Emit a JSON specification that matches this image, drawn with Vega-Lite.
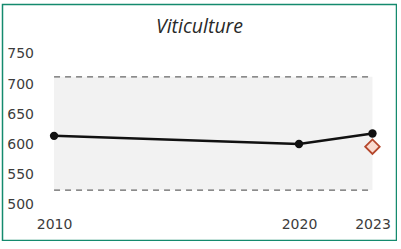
{
  "$schema": "https://vega.github.io/schema/vega-lite/v6.json",
  "autosize": "none",
  "padding": {"left": 2.5, "top": 4.5, "right": 0, "bottom": 0},
  "width": 394,
  "height": 236,
  "background": "white",
  "config": {
    "view": {"stroke": "#148a6e", "strokeWidth": 1.5},
    "font": "DejaVu Sans"
  },
  "title": {
    "text": "Viticulture",
    "font": "Open Sans",
    "fontStyle": "italic",
    "fontWeight": "normal",
    "fontSize": 19.5,
    "color": "#2a2a2a",
    "anchor": "middle",
    "offset": -33
  },
  "datasets": {
    "series": [
      {"year": 2010, "value": 614},
      {"year": 2020, "value": 600.5},
      {"year": 2023, "value": 618}
    ],
    "target": [
      {"year": 2023, "value": 596}
    ],
    "band": [
      {"start": 2010, "end": 2023, "lo": 524, "hi": 712}
    ],
    "edges": [
      {"start": 2010, "end": 2023, "level": 524},
      {"start": 2010, "end": 2023, "level": 712}
    ]
  },
  "layer": [
    {
      "data": {"name": "band"},
      "mark": {"type": "rect", "fill": "#f2f2f2"},
      "encoding": {
        "x": {"field": "start", "type": "quantitative", "scale": {"domain": [2007.895, 2023.981], "nice": false, "zero": false},
          "axis": {"values": [2010, 2020, 2023], "format": "d", "title": null, "grid": false, "domain": false, "ticks": false,
            "labelFont": "DejaVu Sans", "labelFontSize": 14, "labelColor": "#3c3c3c", "labelPadding": 2, "offset": -25, "labelFlush": false}},
        "x2": {"field": "end"},
        "y": {"field": "lo", "type": "quantitative", "scale": {"domain": [440.2, 832.2], "nice": false, "zero": false},
          "axis": {"values": [500, 550, 600, 650, 700, 750], "title": null, "grid": false, "domain": false, "ticks": false,
            "labelFont": "DejaVu Sans", "labelFontSize": 14, "labelColor": "#3c3c3c", "labelPadding": 2, "offset": -33}},
        "y2": {"field": "hi"}
      }
    },
    {
      "data": {"name": "edges"},
      "mark": {"type": "rule", "color": "#666666", "strokeWidth": 1.2, "strokeDash": [6, 5]},
      "encoding": {
        "x": {"field": "start", "type": "quantitative"},
        "x2": {"field": "end"},
        "y": {"field": "level", "type": "quantitative"}
      }
    },
    {
      "data": {"name": "series"},
      "mark": {"type": "line", "color": "#111111", "strokeWidth": 2.5},
      "encoding": {
        "x": {"field": "year", "type": "quantitative"},
        "y": {"field": "value", "type": "quantitative"}
      }
    },
    {
      "data": {"name": "series"},
      "mark": {"type": "point", "filled": true, "color": "#111111", "size": 70, "opacity": 1},
      "encoding": {
        "x": {"field": "year", "type": "quantitative"},
        "y": {"field": "value", "type": "quantitative"}
      }
    },
    {
      "data": {"name": "target"},
      "mark": {"type": "point", "shape": "diamond", "filled": false, "fill": "#fadbd0", "fillOpacity": 1, "stroke": "#b5472c", "strokeWidth": 1.8, "size": 210, "opacity": 1},
      "encoding": {
        "x": {"field": "year", "type": "quantitative"},
        "y": {"field": "value", "type": "quantitative"}
      }
    }
  ]
}
